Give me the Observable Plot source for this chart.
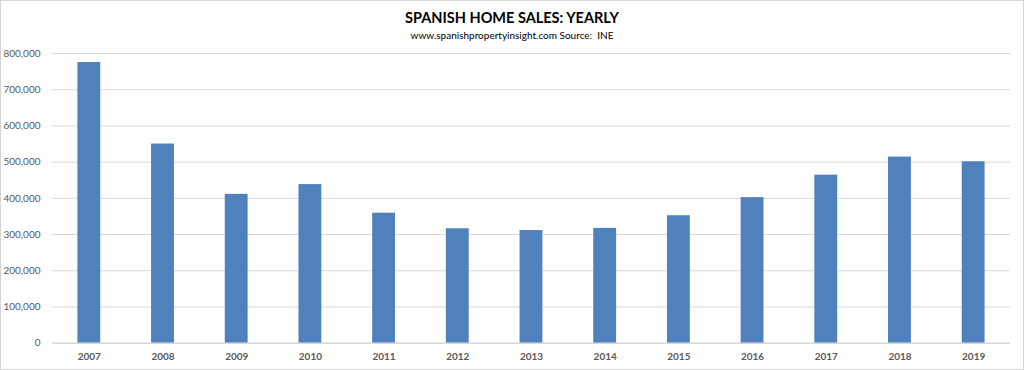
<!DOCTYPE html>
<html>
<head>
<meta charset="utf-8">
<script src="https://cdn.jsdelivr.net/npm/d3@7"></script>
<script src="https://cdn.jsdelivr.net/npm/@observablehq/plot@0.6"></script>
<style>
  html, body { margin: 0; padding: 0; background: #fff; }
  #frame { position: relative; width: 1022px; height: 368px; border: 1px solid #d4d4d4; overflow: hidden; background: #fff; }
  #title { position: absolute; left: 0; width: 1022px; top: 8px; text-align: center; font-family: Lato, "Open Sans", sans-serif; font-weight: 700; font-size: 14.5px; color: #000; }
  #subtitle { position: absolute; left: 0; width: 1022px; top: 28px; text-align: center; font-family: Lato, "Open Sans", sans-serif; font-size: 10px; color: #000; }
  #chart { position: absolute; left: -1px; top: 44px; }
  svg text { fill: #595959; }
</style>
</head>
<body>
<div id="frame">
  <div id="title">SPANISH HOME SALES: YEARLY</div>
  <div id="subtitle">www.spanishpropertyinsight.com Source:&nbsp; INE</div>
  <div id="chart"></div>
</div>
<script>
const years = ["2007","2008","2009","2010","2011","2012","2013","2014","2015","2016","2017","2018","2019"];
const sales = [775000, 550000, 411000, 438000, 359000, 316000, 311000, 317000, 352000, 402000, 464000, 514000, 501000];
const yTicks = [0, 100000, 200000, 300000, 400000, 500000, 600000, 700000, 800000];

const data = years.map((y, i) => ({year: y, value: sales[i]}));

const chart = Plot.plot({
  width: 1024,
  height: 325,
  marginLeft: 52,
  marginRight: 13,
  marginTop: 8,
  marginBottom: 27,
  style: {fontFamily: "Lato, 'Open Sans', sans-serif", fontSize: "10px", color: "#595959", background: "#fff"},
  x: {domain: years, paddingInner: 0.69, paddingOuter: 0.345, round: false, label: null},
  y: {domain: [0, 800000], label: null},
  marks: [
    Plot.gridY(yTicks, {stroke: "#d9d9d9", strokeOpacity: 1}),
    Plot.barY(data, {x: "year", y: "value", fill: "#4f81bd"}),
    Plot.ruleY([0], {stroke: "#d0d0d0", strokeOpacity: 1}),
    Plot.axisY({ticks: yTicks, tickSize: 0, tickPadding: 12, tickFormat: d3.format(","), label: null, fontSize: 10}),
    Plot.axisX({tickSize: 0, tickPadding: 10, label: null, fontWeight: "bold", fontSize: 10})
  ]
});
document.getElementById("chart").appendChild(chart);
</script>
</body>
</html>
